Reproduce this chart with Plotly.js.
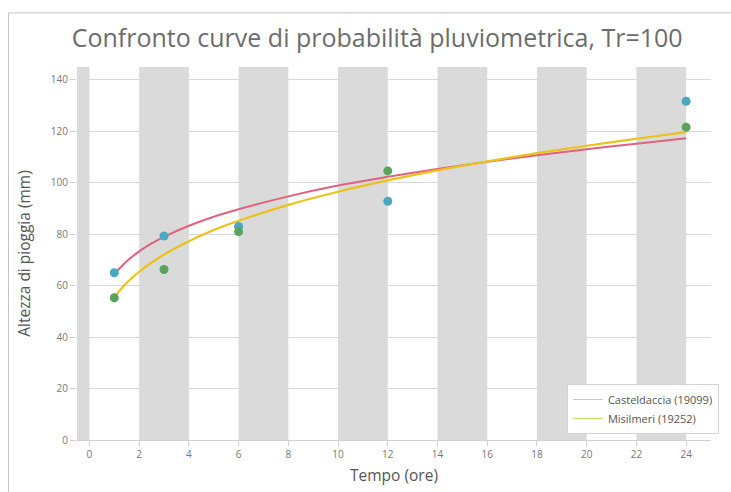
<!DOCTYPE html>
<html>
<head>
<meta charset="utf-8">
<script src="https://cdn.plot.ly/plotly-3.0.1.min.js"></script>
<style>html,body{margin:0;padding:0;background:#fff;}#chart{width:731px;height:492px;}</style>
</head>
<body>
<div id="chart"></div>
<script>
// Observed data points (hours, mm)
const durations = [1, 3, 6, 12, 24];
const casteldacciaObs = [65.0, 79.3, 83.0, 92.8, 131.7];
const misilmeriObs = [55.3, 66.3, 81.0, 104.6, 121.6];

// Fitted curves
const curveT = [1, 1.5, 2, 2.5, 3, 4, 5, 6, 8, 10, 12, 14, 16, 18, 20, 22, 24];
const casteldacciaCurve = [64.5, 69.5, 73.3, 76.4, 79.0, 83.3, 86.8, 89.7, 94.7, 98.9, 102.3, 105.4, 108.2, 110.7, 113.0, 115.2, 117.3];
const misilmeriCurve = [55.5, 61.1, 65.4, 69.0, 72.1, 77.3, 81.6, 85.2, 91.4, 96.5, 100.9, 104.8, 108.3, 111.5, 114.4, 117.1, 119.7];

const xTicks = [0, 2, 4, 6, 8, 10, 12, 14, 16, 18, 20, 22, 24];
const yTicks = [0, 20, 40, 60, 80, 100, 120, 140];
const seriesNames = ['Casteldaccia (19099)', 'Misilmeri (19252)'];

const bandColor = '#dadada';
const shapes = [];
// alternating vertical bands built from the x tick grid
shapes.push({type:'rect', xref:'x', yref:'paper', x0:-2, x1:xTicks[0], y0:0, y1:1, fillcolor:bandColor, line:{width:0}, layer:'below'});
for (let i = 1; i + 1 < xTicks.length; i += 2) {
  shapes.push({type:'rect', xref:'x', yref:'paper', x0:xTicks[i], x1:xTicks[i+1], y0:0, y1:1, fillcolor:bandColor, line:{width:0}, layer:'below'});
}
// outer chart frame
shapes.push({type:'rect', xref:'paper', yref:'paper', x0:-0.108, x1:2, y0:-0.5, y1:1.145, fillcolor:'rgba(0,0,0,0)', line:{color:'#c4c4c4', width:1}, layer:'above'});

const traces = [
  {x: curveT, y: casteldacciaCurve, mode:'lines', line:{color:'#e0637e', width:2, shape:'spline'}, showlegend:false, hoverinfo:'skip'},
  {x: curveT, y: misilmeriCurve, mode:'lines', line:{color:'#ecc21a', width:2.2, shape:'spline'}, showlegend:false, hoverinfo:'skip'},
  {x: durations, y: casteldacciaObs, mode:'markers', marker:{color:'#4aa8c0', size:9}, showlegend:false},
  {x: durations, y: misilmeriObs, mode:'markers', marker:{color:'#5aa35c', size:9}, showlegend:false},
  {x:[null], y:[null], mode:'lines', name: seriesNames[0], line:{color:'#c8c8c8', width:1}},
  {x:[null], y:[null], mode:'lines', name: seriesNames[1], line:{color:'#cfdc70', width:1.5}}
];

const layout = {
  width: 731, height: 492,
  margin: {l:77, r:15, t:67, b:52},
  paper_bgcolor:'#ffffff', plot_bgcolor:'#ffffff',
  font: {family:'"Open Sans", sans-serif', color:'#666'},
  title: {text:'Confronto curve di probabilità pluviometrica, Tr=100', x:0.516, xanchor:'center', y:0.923, yanchor:'middle',
          font:{family:'"Open Sans", sans-serif', size:25, color:'#6c6c6c'}},
  xaxis: {range:[-0.5, 25], tickvals:xTicks, ticktext:xTicks.map(String), showgrid:false, zeroline:false,
          ticks:'outside', ticklen:5, tickcolor:'#d0d0d0', showline:true, linecolor:'#d0d0d0',
          tickfont:{size:10, color:'#777'},
          title:{text:'Tempo (ore)', font:{size:15.5, color:'#555'}, standoff:10}},
  yaxis: {range:[0, 145], tickvals:yTicks, showgrid:true, gridcolor:'#d8d8d8', gridwidth:1, zeroline:false,
          ticks:'outside', ticklen:6, tickcolor:'#d0d0d0',
          tickfont:{size:10, color:'#777'},
          title:{text:'Altezza di pioggia (mm)', font:{size:15.5, color:'#555'}, standoff:16}},
  legend: {x:1.0125, xanchor:'right', y:0.016, yanchor:'bottom', bgcolor:'#ffffff', bordercolor:'#d4d4d4', borderwidth:1,
           font:{size:11, color:'#555'}, tracegroupgap:0, itemwidth:30},
  shapes: shapes
};

Plotly.newPlot('chart', traces, layout, {displayModeBar:false, staticPlot:true});
</script>
</body>
</html>
